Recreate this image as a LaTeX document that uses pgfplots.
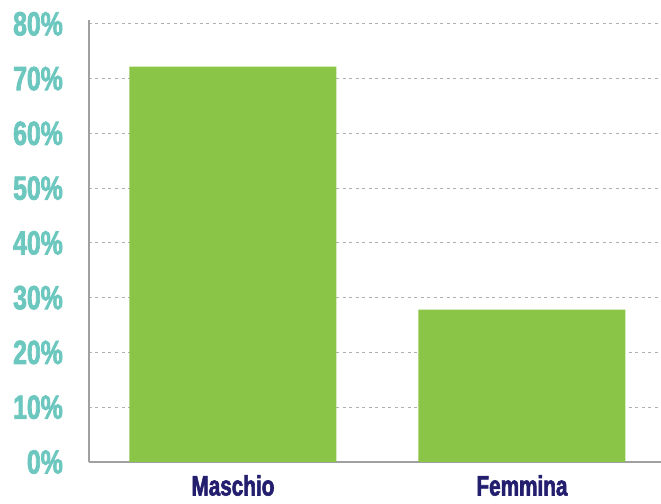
\documentclass[border=0pt]{standalone}
\usepackage{pgfplots}
\pgfplotsset{compat=1.18}
\usepackage{fontspec}
\setmainfont{Liberation Sans}
\newfontfamily\condfont[FakeStretch=0.74,FakeBold=2.2]{Liberation Sans Bold}
\definecolor{barg}{RGB}{139,197,71}
\definecolor{tealc}{RGB}{108,199,191}
\definecolor{navyc}{RGB}{35,30,110}
\definecolor{axg}{RGB}{160,160,160}
\definecolor{gridg}{RGB}{175,175,175}
\begin{document}
\begin{tikzpicture}
\begin{axis}[
  scale only axis,
  width=572pt, height=442pt,
  xmin=-0.498, xmax=1.481,
  ymin=0, ymax=80.7,
  axis x line*=bottom, axis y line*=left,
  axis line style={draw=axg, line width=1.2pt},
  x axis line style={-}, y axis line style={-},
  xtick={0,1}, xticklabels={Maschio,Femmina},
  ytick={0,10,20,30,40,50,60,70,80},
  yticklabels={0\%,10\%,20\%,30\%,40\%,50\%,60\%,70\%,80\%},
  major tick length=0pt,
  tick style={draw=none},
  ymajorgrids,
  major grid style={draw=gridg, line width=1.1pt, dash pattern=on 3pt off 3.5pt},
  yticklabel style={font=\condfont\fontsize{33.5}{36}\selectfont, text=tealc, anchor=east, inner sep=0pt, xshift=-26pt},
  xticklabel style={font=\condfont\fontsize{28}{30}\selectfont, text=navyc, anchor=north, inner sep=0pt, text depth=0pt, yshift=-13pt},
  ybar, bar width=207pt,
]
\addplot[fill=barg, draw=none] coordinates {(0,72.2) (1,27.8)};
\end{axis}
\pgfresetboundingbox
\path[use as bounding box] ([xshift=-89pt,yshift=-42pt]current axis.south west) rectangle ([yshift=20pt]current axis.north east);
\end{tikzpicture}
\end{document}
